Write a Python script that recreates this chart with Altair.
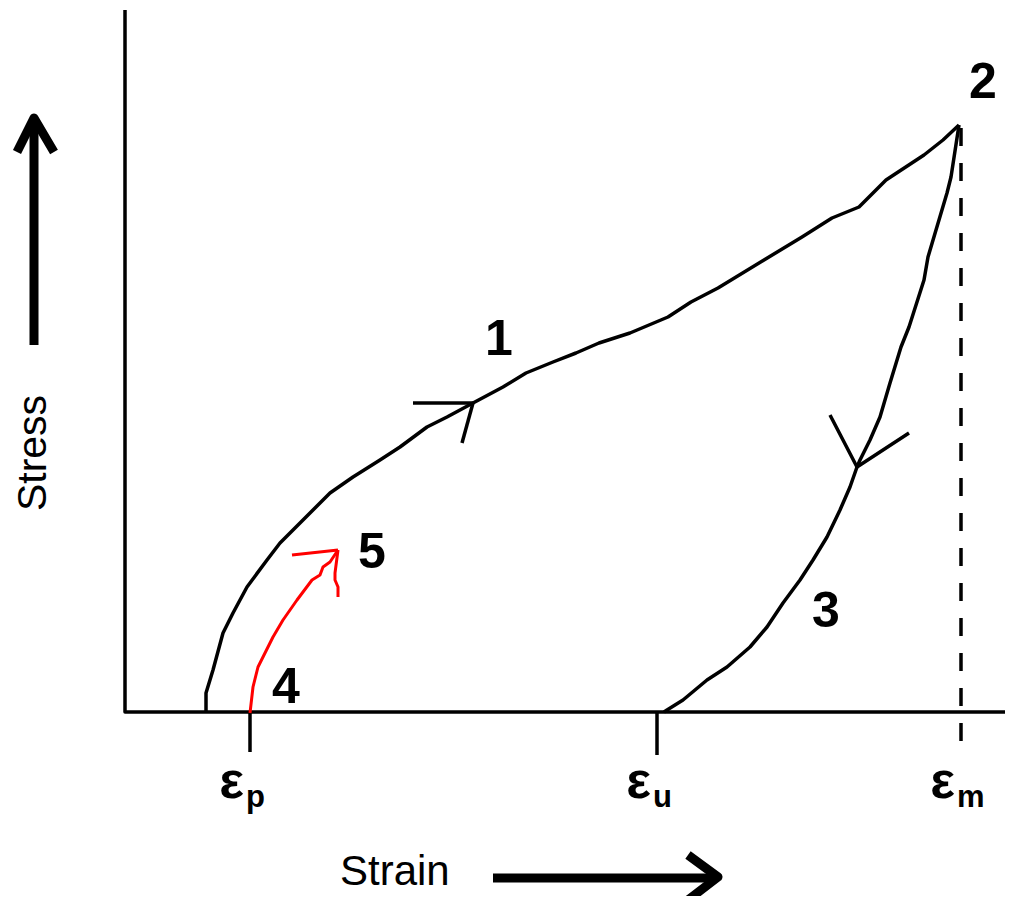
import altair as alt
import pandas as pd

# ---- data (strain / stress in arbitrary units, origin at the axes corner) ----
load_strain = [81, 81, 88, 98, 108, 122, 142, 155, 178, 205, 228, 255, 275, 302, 322, 348,
               378, 401, 428, 451, 474, 505, 543, 566, 593, 639, 677, 707, 734, 761, 799, 818, 834]
load_stress = [0, 19, 42, 79, 99, 125, 152, 169, 192, 219, 235, 252, 265, 285, 295, 309,
               325, 339, 350, 359, 369, 379, 395, 410, 424, 452, 475, 494, 505, 532, 557, 572, 587]

unload_strain = [834, 826, 822, 803, 799, 784, 776, 765, 755, 745, 735, 732, 725, 715, 702,
                 688, 675, 658, 642, 625, 602, 582, 558, 542, 539]
unload_stress = [587, 535, 519, 455, 432, 385, 365, 329, 295, 272, 252, 245, 225, 202, 175,
                 152, 132, 109, 85, 65, 45, 32, 12, 2, 0]

reload_strain = [125, 128, 133, 140, 148, 158, 172, 187, 195, 198, 205, 213]
reload_stress = [-1, 25, 45, 59, 75, 92, 112, 132, 137, 145, 150, 162]

# arrowheads on the curves
arrow1_a_strain = [288, 348]
arrow1_a_stress = [309, 309]
arrow1_b_strain = [348, 337]
arrow1_b_stress = [309, 269]
arrow3_strain = [705, 732, 784]
arrow3_stress = [297, 245, 279]
red_a_strain = [167, 213]
red_a_stress = [157, 162]
red_b_strain = [213, 210, 210, 213, 213]
red_b_stress = [162, 139, 132, 125, 115]

# axes and ticks
yaxis_strain = [0, 0, 880]
yaxis_stress = [702, 0, 0]
tick_names = ["p", "u", "m"]
tick_strain = [125, 532, 836]
tick_low = [-40, -43, -43]
em_top = 584

# big axis arrows
strain_arrow_shaft = ([368, 587], [-166, -166])
strain_arrow_head = ([563, 593, 563], [-143, -165, -188])
stress_arrow_shaft = ([-91, -91], [367, 590])
stress_arrow_head = ([-108, -91, -71], [560, 594, 560])

# point labels
num_labels = ["1", "2", "3", "4", "5"]
num_strain = [374, 858, 701, 161, 247]
num_stress = [357, 614, 85, 9, 144]


def path(name, xs, ys):
    return pd.DataFrame({"strain": xs, "stress": ys, "path": name, "ord": list(range(len(xs)))})


black = pd.concat([
    path("load", load_strain, load_stress),
    path("unload", unload_strain, unload_stress),
    path("a1a", arrow1_a_strain, arrow1_a_stress),
    path("a1b", arrow1_b_strain, arrow1_b_stress),
    path("a3", arrow3_strain, arrow3_stress),
])
red = pd.concat([
    path("reload", reload_strain, reload_stress),
    path("ra", red_a_strain, red_a_stress),
    path("rb", red_b_strain, red_b_stress),
])
axes = pd.concat([path("axes", yaxis_strain, yaxis_stress)] + [
    path("t" + n, [s, s], [0, lo]) for n, s, lo in zip(tick_names[:2], tick_strain[:2], tick_low[:2])
])
dashed = path("em", [tick_strain[2], tick_strain[2]], [em_top, tick_low[2]])
big = pd.concat([
    path("sa", *strain_arrow_shaft),
    path("sh", *strain_arrow_head),
    path("ta", *stress_arrow_shaft),
    path("th", *stress_arrow_head),
])

X = alt.X("strain:Q", scale=alt.Scale(domain=[-117, 891], nice=False, zero=False), axis=None)
Y = alt.Y("stress:Q", scale=alt.Scale(domain=[-184, 704], nice=False, zero=False), axis=None)


def lines(df, color, width, **kw):
    return alt.Chart(df).mark_line(color=color, strokeWidth=width, strokeJoin="round", **kw).encode(
        x=X, y=Y, detail="path:N", order="ord:Q")


FONT = "Liberation Sans"

nums = pd.DataFrame({"label": num_labels, "strain": num_strain, "stress": num_stress})
num_layer = alt.Chart(nums).mark_text(font=FONT, fontSize=50, fontWeight="bold", align="center",
                                      baseline="alphabetic", color="black").encode(x=X, y=Y, text="label:N")

eps = pd.DataFrame({"label": ["ε"] * 3, "strain": tick_strain, "stress": [-86] * 3})
eps_layer = alt.Chart(eps).mark_text(font=FONT, fontSize=52, fontWeight="bold", align="right",
                                     baseline="alphabetic", dx=-6, color="black").encode(x=X, y=Y, text="label:N")
subs = pd.DataFrame({"label": tick_names, "strain": tick_strain, "stress": [-95] * 3})
sub_layer = alt.Chart(subs).mark_text(font=FONT, fontSize=31, fontWeight="bold", align="left",
                                      baseline="alphabetic", dx=-4, color="black").encode(x=X, y=Y, text="label:N")

strain_lbl = alt.Chart(pd.DataFrame({"label": ["Strain"], "strain": [215], "stress": [-173]})).mark_text(
    font=FONT, fontSize=42, align="left", baseline="alphabetic", color="black").encode(x=X, y=Y, text="label:N")
stress_lbl = alt.Chart(pd.DataFrame({"label": ["Stress"], "strain": [-79], "stress": [259]})).mark_text(
    font=FONT, fontSize=41, align="center", baseline="alphabetic", angle=270, color="black").encode(
    x=X, y=Y, text="label:N")

chart = alt.layer(
    lines(axes, "black", 3.5),
    lines(dashed, "black", 3.5, strokeDash=[18, 17]),
    lines(black, "black", 3.5),
    lines(red, "#ff0000", 3),
    lines(big, "black", 9),
    num_layer, eps_layer, sub_layer, strain_lbl, stress_lbl,
).properties(
    width=1008, height=888, padding=0,
    autosize=alt.AutoSizeParams(type="none"),
    background="white",
).configure_view(stroke=None)

chart.save("out.html", embed_options={"renderer": "svg", "actions": False})
